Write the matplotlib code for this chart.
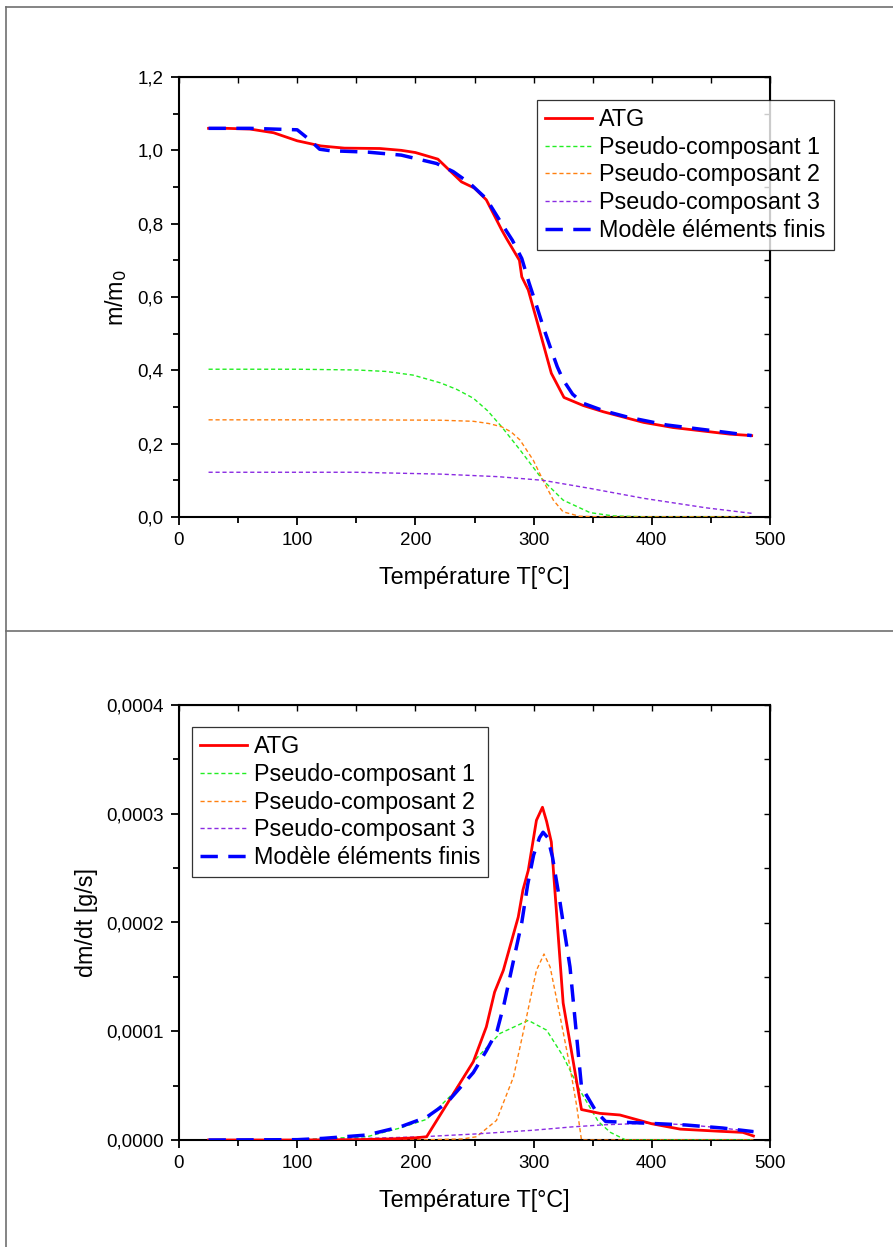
import matplotlib
matplotlib.use("Agg")
import matplotlib.pyplot as plt
import numpy as np
from matplotlib.lines import Line2D
from matplotlib.ticker import FuncFormatter, MultipleLocator

plt.rcParams["font.family"] = ["Liberation Sans", "DejaVu Sans"]

# --- top panel: normalised mass m/m0 vs temperature
atg_T = [25, 40, 60, 80, 100, 120, 140, 170, 188, 200, 219, 239, 250, 260, 273, 277,
         288, 290, 295.5, 302.6, 315, 325.7, 342, 359, 393, 418, 466, 484.5]
atg_m = [1.060, 1.060, 1.058, 1.048, 1.026, 1.012, 1.006, 1.005, 1.000, 0.994, 0.976,
         0.914, 0.897, 0.865, 0.783, 0.760, 0.700, 0.655, 0.619, 0.537, 0.392, 0.326,
         0.304, 0.287, 0.258, 0.244, 0.226, 0.222]

mod_T = [25, 60, 100, 110, 119, 128, 160, 188, 218, 232, 246, 260, 274, 282, 290, 296,
         302.6, 308, 314, 320, 325, 333, 342, 359, 380, 412.5, 450, 484.5]
mod_m = [1.060, 1.060, 1.056, 1.030, 1.003, 0.999, 0.995, 0.987, 0.964, 0.942, 0.910,
         0.868, 0.795, 0.755, 0.705, 0.640, 0.575, 0.520, 0.464, 0.410, 0.374, 0.335,
         0.310, 0.290, 0.272, 0.251, 0.236, 0.222]

pc1_T = [25, 100, 150, 175, 198, 221, 235, 249, 261, 273, 288.5, 308, 325, 347.7, 367,
         400, 484.5]
pc1_m = [0.403, 0.403, 0.401, 0.397, 0.387, 0.366, 0.348, 0.324, 0.290, 0.246, 0.183,
         0.100, 0.046, 0.012, 0.003, 0.0, 0.0]

pc2_T = [25, 150, 221, 249, 262, 273, 281, 288.5, 299.7, 308, 316.7, 325, 339, 360, 484.5]
pc2_m = [0.265, 0.265, 0.264, 0.261, 0.255, 0.246, 0.232, 0.210, 0.155, 0.100, 0.046,
         0.014, 0.002, 0.0, 0.0]

pc3_T = [25, 150, 221, 270, 308, 347.7, 393, 446, 484.5]
pc3_m = [0.122, 0.122, 0.117, 0.110, 0.100, 0.078, 0.051, 0.025, 0.010]

# --- bottom panel: dm/dt in units of 1e-4 g/s
atg_dT = [25, 100, 150, 180, 200, 209.5, 249, 260, 267, 274.4, 287, 291, 295.5, 302.4,
          307.5, 311, 315, 325, 340.5, 356, 373, 399.7, 424, 457.7, 477, 486]
atg_dm = [0, 0, 0.003, 0.01, 0.02, 0.03, 0.72, 1.04, 1.36, 1.56, 2.05, 2.30, 2.48, 2.94,
          3.06, 2.93, 2.74, 1.26, 0.28, 0.245, 0.23, 0.15, 0.10, 0.08, 0.07, 0.037]

mod_dT = [25, 100, 122, 159, 187, 209.5, 226.5, 249, 260, 269, 275, 283, 290, 295, 300,
          305, 308, 312, 316, 322, 330.8, 340.5, 353, 361, 395, 428.7, 460, 486]
mod_dm = [0, 0.003, 0.015, 0.046, 0.12, 0.21, 0.34, 0.62, 0.82, 1.00, 1.25, 1.65, 2.00,
          2.35, 2.62, 2.78, 2.83, 2.78, 2.60, 2.21, 1.59, 0.49, 0.26, 0.17, 0.155, 0.138,
          0.11, 0.077]

pc1_dT = [25, 100, 159, 187, 209.5, 232, 249, 271.6, 295.5, 311, 325, 339, 354.7, 365, 378, 486]
pc1_dm = [0, 0.002, 0.03, 0.11, 0.19, 0.43, 0.72, 0.98, 1.10, 1.01, 0.77, 0.46, 0.17,
          0.07, 0.0, 0.0]

pc2_dT = [25, 200, 240, 251.7, 268.6, 283, 294, 302.4, 308.8, 314, 322, 330.8, 336.5, 340.5, 486]
pc2_dm = [0, 0, 0.01, 0.03, 0.18, 0.58, 1.13, 1.56, 1.71, 1.59, 1.16, 0.67, 0.31, 0.0, 0.0]

pc3_dT = [25, 100, 150, 206, 250, 300, 332, 360, 399, 430, 460, 486]
pc3_dm = [0, 0.003, 0.012, 0.03, 0.055, 0.09, 0.12, 0.14, 0.155, 0.14, 0.11, 0.075]

labels = ["ATG", "Pseudo-composant 1", "Pseudo-composant 2", "Pseudo-composant 3",
          "Modèle éléments finis"]

FS_TICK = 13.5
FS_LAB = 16.8


def comma(decimals):
    return FuncFormatter(lambda v, _: f"{v:.{decimals}f}".replace(".", ","))


def style_axes(ax, xminor, yminor):
    for sp in ax.spines.values():
        sp.set_linewidth(1.5)
    ax.xaxis.set_major_locator(MultipleLocator(100))
    ax.xaxis.set_minor_locator(MultipleLocator(xminor))
    ax.yaxis.set_minor_locator(MultipleLocator(yminor))
    ax.tick_params(which="major", direction="out", length=6, width=1.3,
                   labelsize=FS_TICK, pad=5)
    ax.tick_params(which="minor", direction="out", length=4, width=1.3)
    # inward ticks on top and right, Origin style
    top = ax.secondary_xaxis("top")
    top.xaxis.set_major_locator(MultipleLocator(xminor))
    top.tick_params(direction="in", length=4, width=1.0, labeltop=False)
    right = ax.secondary_yaxis("right")
    right.yaxis.set_major_locator(MultipleLocator(yminor))
    right.tick_params(direction="in", length=4, width=1.0, labelright=False)


def draw(ax, data):
    (t0, y0), (t1, y1), (t2, y2), (t3, y3), (t4, y4) = data
    ax.plot(t0, y0, color="#ff0000", lw=2.0, label=labels[0], zorder=4)
    ax.plot(t1, y1, color="#22ee22", lw=1.0, ls=(0, (3, 2)), label=labels[1], zorder=3)
    ax.plot(t2, y2, color="#ff8010", lw=1.0, ls=(0, (3, 2)), label=labels[2], zorder=3)
    ax.plot(t3, y3, color="#8a2be2", lw=1.0, ls=(0, (3, 2)), label=labels[3], zorder=3)
    ax.plot(t4, y4, color="#0000ff", lw=2.5, ls=(0, (5, 3)), label=labels[4], zorder=5)


def add_legend(ax, anchor):
    leg = ax.legend(loc="upper left", bbox_to_anchor=anchor, borderaxespad=0,
                    fontsize=FS_LAB, frameon=True, fancybox=False, shadow=False,
                    handlelength=2.0, handletextpad=0.3, labelspacing=0.2,
                    borderpad=0.35)
    leg.get_frame().set_edgecolor("black")
    leg.get_frame().set_linewidth(0.9)
    leg.set_zorder(10)


fig = plt.figure(figsize=(8.93, 12.47), dpi=100)

# panel frame lines
gray = "#707070"
fig.add_artist(Line2D([6 / 893, 1], [1 - 7 / 1247, 1 - 7 / 1247], color=gray, lw=1.2))
fig.add_artist(Line2D([6 / 893, 6 / 893], [0, 1 - 7 / 1247], color=gray, lw=1.2))
fig.add_artist(Line2D([6 / 893, 1], [1 - 631 / 1247, 1 - 631 / 1247], color=gray, lw=1.2))

ax1 = fig.add_axes([179 / 893, 1 - 517 / 1247, 591 / 893, 440 / 1247])
draw(ax1, [(atg_T, atg_m), (pc1_T, pc1_m), (pc2_T, pc2_m), (pc3_T, pc3_m), (mod_T, mod_m)])
ax1.set_xlim(0, 500)
ax1.set_ylim(0, 1.2)
ax1.yaxis.set_major_locator(MultipleLocator(0.2))
ax1.yaxis.set_major_formatter(comma(1))
style_axes(ax1, 50, 0.1)
ax1.set_xlabel("Température T[°C]", fontsize=FS_LAB, labelpad=12)
ax1.set_ylabel("m/m$_0$", fontsize=FS_LAB, labelpad=6)
add_legend(ax1, (0.606, 0.948))

ax2 = fig.add_axes([179 / 893, 1 - 1140 / 1247, 591 / 893, 435 / 1247])
scale = 1e-4
draw(ax2, [(atg_dT, np.array(atg_dm) * scale), (pc1_dT, np.array(pc1_dm) * scale),
           (pc2_dT, np.array(pc2_dm) * scale), (pc3_dT, np.array(pc3_dm) * scale),
           (mod_dT, np.array(mod_dm) * scale)])
ax2.set_xlim(0, 500)
ax2.set_ylim(0, 0.0004)
ax2.yaxis.set_major_locator(MultipleLocator(0.0001))
ax2.yaxis.set_major_formatter(comma(4))
style_axes(ax2, 50, 0.00005)
ax2.set_xlabel("Température T[°C]", fontsize=FS_LAB, labelpad=12)
ax2.set_ylabel("dm/dt [g/s]", fontsize=FS_LAB, labelpad=6)
add_legend(ax2, (0.022, 0.949))

fig.savefig("out.png", dpi=100)
plt.close(fig)
